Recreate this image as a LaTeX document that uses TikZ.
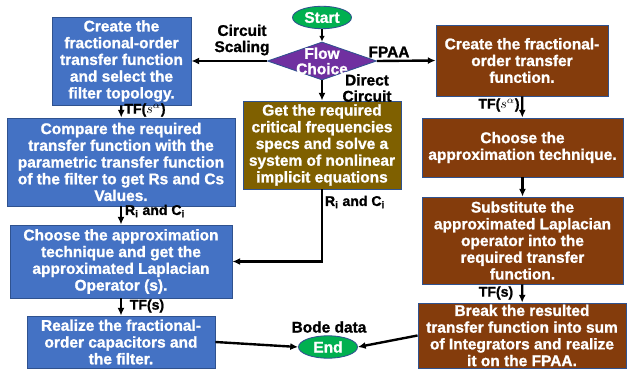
\documentclass[tikz,border=0pt]{standalone}
\usepackage{fontspec}
\setmainfont{Liberation Sans}[BoldFeatures={FakeBold=1.2}]
\usetikzlibrary{arrows.meta,shapes.geometric}

\definecolor{boxblue}{HTML}{4472C4}
\definecolor{boxbrown}{HTML}{843C0C}
\definecolor{boxolive}{HTML}{7F6000}
\definecolor{termgreen}{HTML}{00B050}
\definecolor{choicepurple}{HTML}{7030A0}
\definecolor{edgeblue}{HTML}{2F528F}

\begin{document}
\begin{tikzpicture}[x=0.025cm,y=-0.025cm,>={Latex[length=5.5pt,width=5pt]},
  box/.style={draw=edgeblue,line width=0.6pt,text=white,align=center,inner sep=1pt,
    font=\fontsize{11}{11.9}\selectfont\bfseries},
  bluebox/.style={box,fill=boxblue},
  brownbox/.style={box,fill=boxbrown},
  olivebox/.style={box,fill=boxolive},
  term/.style={ellipse,draw=edgeblue,line width=0.6pt,fill=termgreen,text=white,inner sep=0pt,
    minimum width=1.475cm,minimum height=0.56cm,font=\fontsize{11}{12}\selectfont\bfseries},
  flow/.style={line width=1.7pt,->},
  lbl/.style={align=center,font=\fontsize{11}{11.5}\selectfont\bfseries},
  sublbl/.style={font=\fontsize{10}{10}\selectfont\bfseries}]
\useasboundingbox (0,0) rectangle (632,372);

% start and choice
\node[term] (start) at (322,17.5) {Start};
\node[diamond,draw=edgeblue,line width=0.6pt,fill=choicepurple,inner sep=0pt,
  minimum width=2.725cm,minimum height=0.95cm] (choice) at (322,61) {};
\node[text=white,align=center,font=\fontsize{11}{11}\selectfont\bfseries] (choicetext) at (choice.center) {Flow\\Choice};

% left column
\node[bluebox,minimum width=3.475cm,minimum height=2.2cm] (create) at (121.5,61)
  {Create the\\fractional-order\\transfer function\\and select the\\filter topology.};
\node[bluebox,minimum width=5.7cm,minimum height=2.2cm] (compare) at (121,162)
  {Compare the required\\transfer function with the\\parametric transfer function\\of the filter to get Rs and Cs\\Values.};
\node[bluebox,minimum width=5.55cm,minimum height=1.825cm] (approx) at (121,261.5)
  {Choose the approximation\\technique and get the\\approximated Laplacian\\Operator (s).};
\node[bluebox,minimum width=4.7cm,minimum height=1.3cm] (realize) at (121,342)
  {Realize the fractional-\\order capacitors and\\the filter.};

% middle column
\node[olivebox,minimum width=3.95cm,minimum height=2.2cm] (direct) at (322,145)
  {Get the required\\critical frequencies\\specs and solve a\\system of nonlinear\\implicit equations};
\node[term] (end) at (328,347) {End};

% right column
\node[brownbox,minimum width=4.3cm,minimum height=1.775cm] (fpaacreate) at (522,60.5)
  {Create the fractional-\\order transfer\\function.};
\node[brownbox,minimum width=5.025cm,minimum height=1.475cm] (fpaaapprox) at (522.5,147.5)
  {Choose the\\approximation technique.};
\node[brownbox,minimum width=5.025cm,minimum height=2.175cm] (fpaasubst) at (522.5,240.5)
  {Substitute the\\approximated Laplacian\\operator into the\\required transfer\\function.};
\node[brownbox,minimum width=5.2cm,minimum height=1.625cm] (fpaabreak) at (522,335.5)
  {Break the resulted\\transfer function into sum\\of Integrators and realize\\it on the FPAA.};

% connectors
\draw[line width=0.9pt,->,>={Latex[length=4pt,width=4pt]}] (start) -- (choice.north);
\draw[flow] (choice.west) -- (create.east);
\draw[flow] (choice.east) -- (fpaacreate.west);
\draw[flow] (choice.south) -- (direct.north);
\draw[flow] (create) -- (compare);
\draw[flow] (compare) -- (approx);
\draw[flow] (approx) -- (realize);
\draw[flow] (direct.south) |- (approx.east);
\draw[flow] (realize.east) -- (end.west);
\draw[flow] (fpaacreate) -- (fpaaapprox);
\draw[flow] (fpaaapprox) -- (fpaasubst);
\draw[flow] (fpaasubst) -- (fpaabreak);
\draw[flow] (fpaabreak.west) -- (end.east);

% labels
\node[lbl] (scaling) at (242,40) {Circuit\\Scaling};
\node[lbl] (fpaa) at (389,52) {FPAA};
\node[lbl] (directlbl) at (367,88) {Direct\\Circuit};
\node[lbl] (bode) at (329,327) {Bode data};
\node[sublbl] (tfalpha) at (145,110) {TF($s^{\alpha}$)};
\node[sublbl] (rcleft) at (155,211) {R\textsubscript{i} and C\textsubscript{i}};
\node[sublbl] (tfleft) at (147,306) {TF(s)};
\node[sublbl] (rcmid) at (355,202) {R\textsubscript{i} and C\textsubscript{i}};
\node[sublbl] (tfalpharight) at (499,105) {TF($s^{\alpha}$)};
\node[sublbl] (tfright) at (496,293) {TF(s)};
\end{tikzpicture}
\end{document}
